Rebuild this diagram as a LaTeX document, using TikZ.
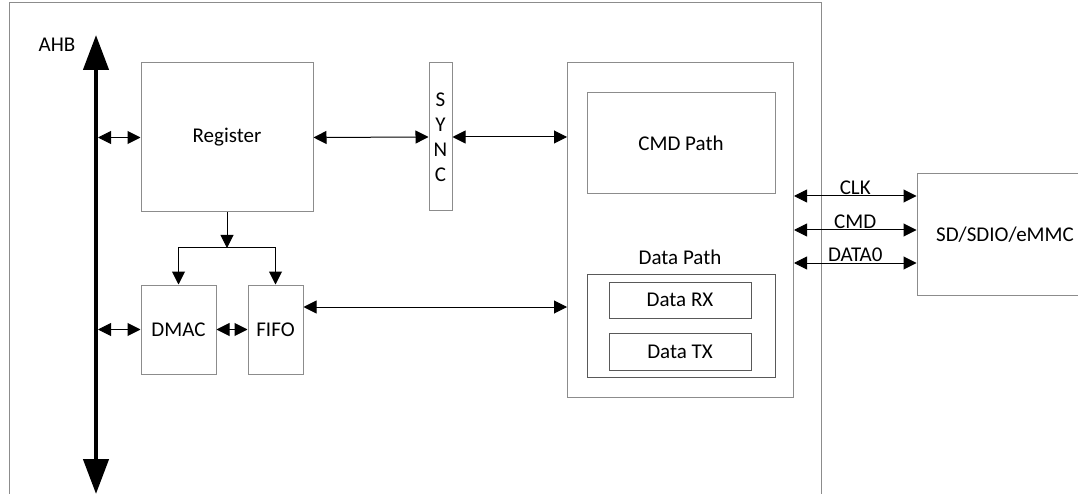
\documentclass[tikz,border=0pt]{standalone}
\usepackage{fontspec}
\setmainfont{Carlito}
\usetikzlibrary{arrows.meta,positioning}
\definecolor{boxgray}{gray}{0.55}
\definecolor{innergray}{gray}{0.35}

\begin{document}
\begin{tikzpicture}[x=1pt, y=-1pt,
  font=\fontsize{21}{25}\selectfont,
  block/.style={draw=boxgray, line width=1pt, inner sep=0pt, align=center},
  sub/.style={draw=innergray, line width=1pt, inner sep=0pt, align=center},
  arrow/.style={-{Triangle[length=13pt,width=13pt]}, line width=1pt},
  biarrow/.style={{Triangle[length=13pt,width=13pt]}-{Triangle[length=13pt,width=13pt]}, line width=1pt},
  bus/.style={{Triangle[length=35pt,width=25pt]}-{Triangle[length=35pt,width=25pt]}, line width=4.5pt}
]
\useasboundingbox (0,0) rectangle (1078,494);
% frame of the host controller, open at the bottom
\node[block, minimum width=812pt, minimum height=514pt] (soc) at (415,260) {};
% AHB bus
\coordinate (ahbtop) at (96,35);
\coordinate (ahbbot) at (96,494);
\draw[bus] (ahbbot) -- (ahbtop);
\node (ahb) at (57,45) {AHB};
% blocks
\node[block, minimum width=172pt, minimum height=149pt] (reg) at (227,137.5) {Register};
\node[block, minimum width=23pt, minimum height=148pt] (sync) at (440.5,137) {S\\Y\\N\\C};
\node[block, minimum width=75pt, minimum height=89pt] (dmac) at (178.5,329.5) {DMAC};
\node[block, minimum width=55pt, minimum height=89pt] (fifo) at (275.5,329.5) {FIFO};
\node[block, minimum width=226pt, minimum height=334pt] (ctrl) at (680.5,230) {};
\node[block, minimum width=188pt, minimum height=101pt] (cmd) at (681,143.5) {CMD Path};
\node[sub, minimum width=188pt, minimum height=103pt] (dbox) at (681,325.5) {};
\node (dpath) at (680,257) {Data Path};
\node[sub, minimum width=142pt, minimum height=36pt] (drx) at (680,300) {Data RX};
\node[sub, minimum width=142pt, minimum height=37pt] (dtx) at (680,351.5) {Data TX};
\node[block, minimum width=176pt, minimum height=121pt] (sd) at (1005,234.5) {SD/SDIO/eMMC};
% connections
\draw[biarrow] ([xshift=2pt]ahbtop |- reg.west) -- (reg.west);
\draw[biarrow] ([xshift=2pt]ahbtop |- dmac.west) -- (dmac.west);
\draw[biarrow] (reg.east) -- (sync.west);
\draw[biarrow] (sync.east) -- (sync.east -| ctrl.west);
\draw[biarrow] (dmac.east) -- (fifo.west);
\coordinate (split) at (227,248);
\draw[arrow] (reg.south) -- (split);
\draw[arrow] (split) -| (dmac.north);
\draw[arrow] (split) -| (fifo.north);
\coordinate (fifoout) at ([yshift=22.5pt]fifo.east);
\draw[biarrow] (fifoout) -- (fifoout -| ctrl.west);
\foreach \y/\sig in {196/CLK, 230/CMD, 263/DATA0}
  \draw[biarrow] (ctrl.east |- 0,\y) -- node[above, inner sep=1pt] {\sig} (sd.west |- 0,\y);
\end{tikzpicture}
\end{document}
